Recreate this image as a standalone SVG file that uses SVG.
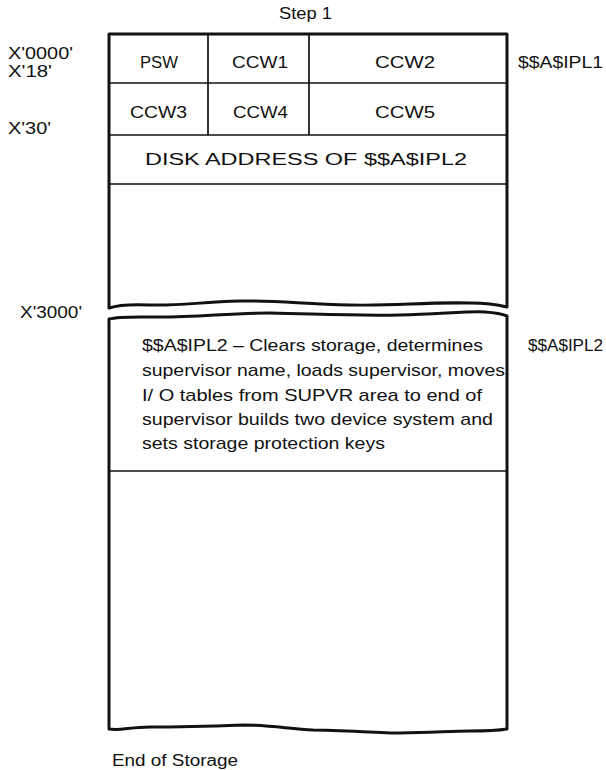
<svg xmlns="http://www.w3.org/2000/svg" width="606" height="770" viewBox="0 0 606 770">
<style>
text{font-family:"Liberation Sans",Arial,sans-serif;font-size:16px;fill:#111}
.c{text-anchor:middle}
.b{font-size:17px}
.thick{fill:none;stroke:#111;stroke-width:3;stroke-linejoin:round;stroke-linecap:round}
.thin{fill:none;stroke:#111;stroke-width:1.7}
</style>
<rect width="606" height="770" fill="#fff"/>
<g id="labels">
<text x="279" y="19" textLength="53" lengthAdjust="spacingAndGlyphs">Step 1</text>
<text x="8" y="59" textLength="65" lengthAdjust="spacingAndGlyphs">X'0000'</text>
<text x="8" y="77" textLength="44" lengthAdjust="spacingAndGlyphs">X'18'</text>
<text x="8" y="134" textLength="43" lengthAdjust="spacingAndGlyphs">X'30'</text>
<text x="20" y="318" textLength="62" lengthAdjust="spacingAndGlyphs">X'3000'</text>
<text x="518" y="68" textLength="85" lengthAdjust="spacingAndGlyphs">$$A$IPL1</text>
<text x="528" y="351" textLength="75" lengthAdjust="spacingAndGlyphs">$$A$IPL2</text>
<text x="112" y="766" textLength="126" lengthAdjust="spacingAndGlyphs">End of Storage</text>
</g>
<g id="upper-box">
<path class="thick" d="M109,308 V34 H507 V307 C495,304 485,303 470,303 C420,302 400,306 350,305 C300,304 280,300 240,301 C200,302 180,306 150,305 C130,304 115,306 109,308"/>
</g>
<g id="row1">
<line class="thin" x1="109" y1="83" x2="507" y2="83"/>
<line class="thin" x1="208" y1="34" x2="208" y2="135"/>
<line class="thin" x1="309" y1="34" x2="309" y2="135"/>
<text x="140" y="68" textLength="38" lengthAdjust="spacingAndGlyphs">PSW</text>
<text x="232" y="68" textLength="56" lengthAdjust="spacingAndGlyphs">CCW1</text>
<text x="375" y="68" textLength="60" lengthAdjust="spacingAndGlyphs">CCW2</text>
</g>
<g id="row2">
<line class="thin" x1="109" y1="135" x2="507" y2="135"/>
<text x="130" y="118" textLength="57" lengthAdjust="spacingAndGlyphs">CCW3</text>
<text x="233" y="118" textLength="55" lengthAdjust="spacingAndGlyphs">CCW4</text>
<text x="375" y="118" textLength="60" lengthAdjust="spacingAndGlyphs">CCW5</text>
</g>
<g id="disk-address">
<line class="thin" x1="109" y1="184" x2="507" y2="184"/>
<text x="145" y="165" textLength="322" lengthAdjust="spacingAndGlyphs">DISK ADDRESS OF $$A$IPL2</text>
</g>
<g id="lower-box">
<path class="thick" d="M109,729 V319 C120,316 135,317 160,317 C200,317 230,313 270,313 C320,314 350,316 400,315 C440,314 470,311 485,312 Q500,313 507,316 V729 Q495,731 470,731 C450,731 430,733 400,733 C380,733 340,730 313,730 C290,729 270,725 243,725 C215,726 180,727 150,727 C130,727 120,731 109,729"/>
<line class="thin" x1="109" y1="471" x2="507" y2="471"/>
<text class="b" x="142" y="351" textLength="341" lengthAdjust="spacingAndGlyphs">$$A$IPL2 – Clears storage, determines</text>
<text class="b" x="142" y="376" textLength="363" lengthAdjust="spacingAndGlyphs">supervisor name, loads supervisor, moves</text>
<text class="b" x="142" y="401" textLength="340" lengthAdjust="spacingAndGlyphs">I/ O tables from SUPVR area to end of</text>
<text class="b" x="142" y="425" textLength="351" lengthAdjust="spacingAndGlyphs">supervisor builds two device system and</text>
<text class="b" x="142" y="449" textLength="243" lengthAdjust="spacingAndGlyphs">sets storage protection keys</text>
</g>
</svg>
